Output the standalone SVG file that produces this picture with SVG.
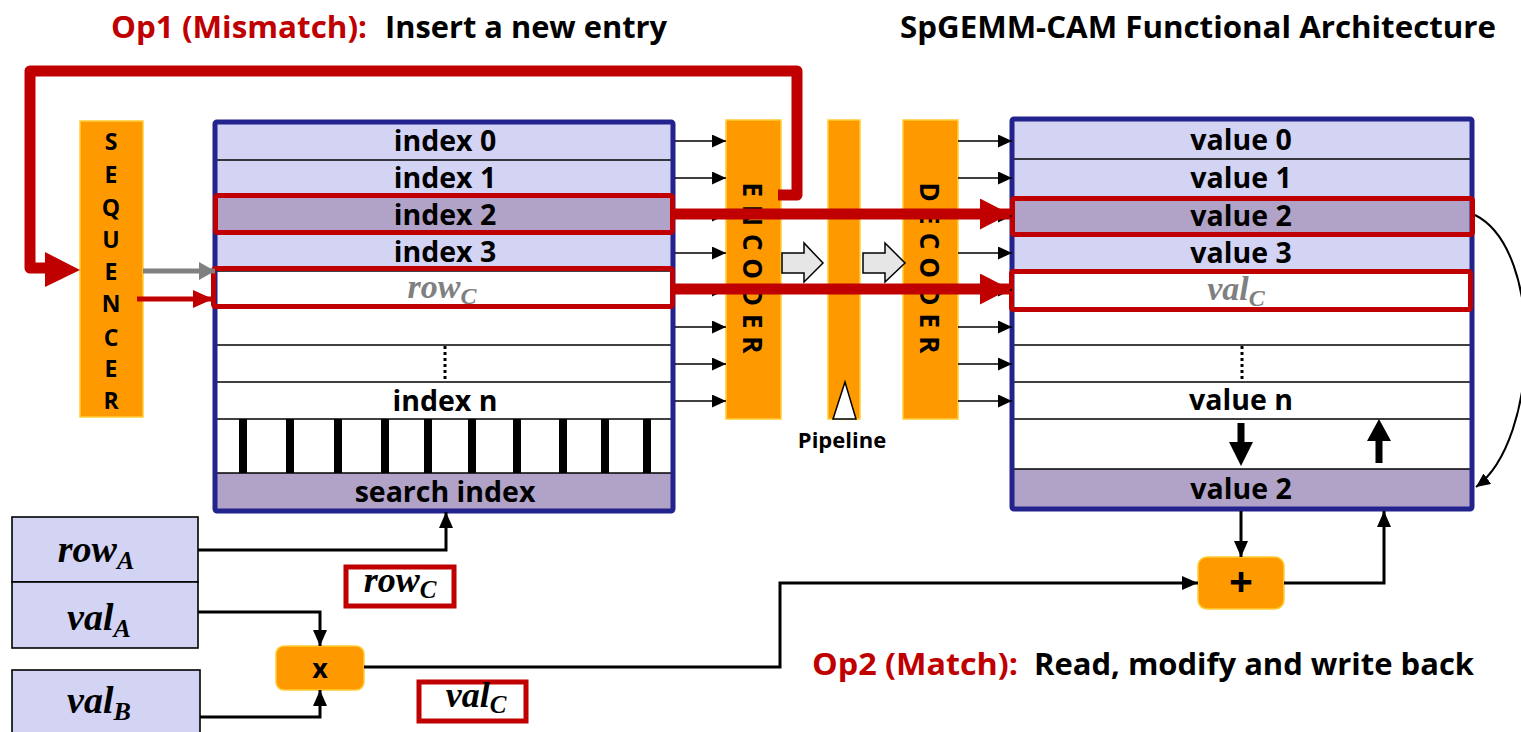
<svg xmlns="http://www.w3.org/2000/svg" width="1521" height="732" viewBox="0 0 1521 732">
<style>
.t{font-family:"Open Sans","Liberation Sans",sans-serif;font-weight:700;text-anchor:middle;fill:#000}
.cell{font-size:28.5px}
.lav{fill:#d3d3f3}
.dk{fill:#b1a3c8}
.wh{fill:#fff}
.ln{stroke:#000;stroke-width:1.6}
.nav{fill:none;stroke:#23238e;stroke-width:5}
.thin{stroke:#000;stroke-width:1.6;fill:none}
.con{stroke:#000;stroke-width:3;fill:none}
.org{fill:#ff9900;stroke:#ffcc33;stroke-width:1.5}
.rbox{fill:none;stroke:#c00000;stroke-width:5}
.math{font-family:"Liberation Serif","DejaVu Serif",serif;font-style:italic;font-weight:700;text-anchor:middle}
.tick{fill:#000}
.dots{stroke:#000;stroke-width:3;stroke-dasharray:3 3}
</style>
<defs>
<marker id="ah" markerUnits="userSpaceOnUse" markerWidth="14" markerHeight="13" refX="14" refY="6.5" orient="auto"><path d="M0,0 L14,6.5 L0,13 z" fill="#000"/></marker>
<marker id="ah2" markerUnits="userSpaceOnUse" markerWidth="16" markerHeight="14" refX="16" refY="7" orient="auto"><path d="M0,0 L16,7 L0,14 z" fill="#000"/></marker>
<marker id="rh" markerUnits="userSpaceOnUse" markerWidth="30" markerHeight="31" refX="30" refY="15.5" orient="auto"><path d="M0,0 L30,15.5 L0,31 z" fill="#c00000"/></marker>
<marker id="rs" markerUnits="userSpaceOnUse" markerWidth="20" markerHeight="18" refX="20" refY="9" orient="auto"><path d="M0,0 L20,9 L0,18 z" fill="#c00000"/></marker>
<marker id="gs" markerUnits="userSpaceOnUse" markerWidth="16" markerHeight="18" refX="16" refY="9" orient="auto"><path d="M0,0 L16,9 L0,18 z" fill="#808080"/></marker>
</defs>

<!-- Titles -->
<text x="111" y="38" font-family="Open Sans, Liberation Sans, sans-serif" font-weight="700" font-size="30" fill="#c00000" textLength="256" lengthAdjust="spacingAndGlyphs">Op1 (Mismatch):</text>
<text x="385" y="38" font-family="Open Sans, Liberation Sans, sans-serif" font-weight="700" font-size="30" fill="#000" textLength="282" lengthAdjust="spacingAndGlyphs">Insert a new entry</text>
<text x="900" y="38" font-family="Open Sans, Liberation Sans, sans-serif" font-weight="700" font-size="30" fill="#000" textLength="596" lengthAdjust="spacingAndGlyphs">SpGEMM-CAM Functional Architecture</text>
<text x="812" y="675" font-family="Open Sans, Liberation Sans, sans-serif" font-weight="700" font-size="30" fill="#c00000" textLength="206" lengthAdjust="spacingAndGlyphs">Op2 (Match):</text>
<text x="1034" y="675" font-family="Open Sans, Liberation Sans, sans-serif" font-weight="700" font-size="30" fill="#000" textLength="440" lengthAdjust="spacingAndGlyphs">Read, modify and write back</text>

<!-- Sequencer -->
<g id="sequencer">
<rect x="80" y="121" width="63" height="296" class="org"/>
<g class="t" font-size="23">
<text x="111" y="150">S</text>
<text x="111" y="183">E</text>
<text x="111" y="216">Q</text>
<text x="111" y="248">U</text>
<text x="111" y="280">E</text>
<text x="111" y="312">N</text>
<text x="111" y="346">C</text>
<text x="111" y="377">E</text>
<text x="111" y="409">R</text>
</g>
</g>

<!-- Index CAM table -->
<g id="index-table">
<rect x="215" y="123" width="458" height="37" class="lav"/>
<rect x="215" y="160" width="458" height="37" class="lav"/>
<rect x="215" y="197" width="458" height="37" class="dk"/>
<rect x="215" y="234" width="458" height="37" class="lav"/>
<rect x="215" y="271" width="458" height="202" class="wh"/>
<rect x="215" y="473" width="458" height="37" class="dk"/>
<g class="ln">
<line x1="215" y1="160" x2="673" y2="160"/>
<line x1="215" y1="197" x2="673" y2="197"/>
<line x1="215" y1="234" x2="673" y2="234"/>
<line x1="215" y1="271" x2="673" y2="271"/>
<line x1="215" y1="308" x2="673" y2="308"/>
<line x1="215" y1="345" x2="673" y2="345"/>
<line x1="215" y1="382" x2="673" y2="382"/>
<line x1="215" y1="419" x2="673" y2="419"/>
<line x1="215" y1="473" x2="673" y2="473"/>
</g>
<line x1="445" y1="346" x2="445" y2="382" class="dots"/>
<g class="tick">
<rect x="239" y="419" width="8" height="54"/>
<rect x="286" y="419" width="8" height="54"/>
<rect x="334" y="419" width="8" height="54"/>
<rect x="381" y="419" width="8" height="54"/>
<rect x="424" y="419" width="8" height="54"/>
<rect x="468" y="419" width="8" height="54"/>
<rect x="513" y="419" width="8" height="54"/>
<rect x="559" y="419" width="8" height="54"/>
<rect x="601" y="419" width="8" height="54"/>
<rect x="643" y="419" width="8" height="54"/>
</g>
<rect x="215" y="122" width="458" height="389" rx="2" class="nav"/>
<g class="t cell">
<text x="445" y="151">index 0</text>
<text x="445" y="188">index 1</text>
<text x="445" y="225">index 2</text>
<text x="445" y="262">index 3</text>
<text x="445" y="411">index n</text>
<text x="445" y="502">search index</text>
</g>
<text x="442" y="298" class="math" font-size="34" fill="#808080">row<tspan font-size="24" dy="6">C</tspan></text>
<rect x="215.5" y="195.5" width="457" height="37" rx="2" class="rbox"/>
<rect x="213.5" y="268.5" width="459" height="38" rx="2" class="rbox"/>
</g>

<!-- Encoder -->
<g id="encoder">
<rect x="726" y="120" width="55" height="299" class="org"/>
<text x="0" y="0" class="t" font-size="26" dominant-baseline="central" textLength="171" lengthAdjust="spacing" transform="translate(753,268) rotate(90)">ENCODER</text>
</g>

<!-- Pipeline -->
<g id="pipeline">
<rect x="828" y="120" width="32" height="299" class="org"/>
<path d="M833,419 L845,382 L856,419 z" fill="#fff" stroke="#000" stroke-width="1.5"/>
<text x="842" y="448" class="t" font-size="22">Pipeline</text>
</g>

<!-- Decoder -->
<g id="decoder">
<rect x="903" y="120" width="55" height="299" class="org"/>
<text x="0" y="0" class="t" font-size="26" dominant-baseline="central" textLength="171" lengthAdjust="spacing" transform="translate(930,268) rotate(90)">DECODER</text>
</g>

<!-- Value table -->
<g id="value-table">
<rect x="1012" y="120" width="460" height="39" class="lav"/>
<rect x="1012" y="159" width="460" height="38" class="lav"/>
<rect x="1012" y="197" width="460" height="38" class="dk"/>
<rect x="1012" y="235" width="460" height="36" class="lav"/>
<rect x="1012" y="271" width="460" height="198" class="wh"/>
<rect x="1012" y="469" width="460" height="39" class="dk"/>
<g class="ln">
<line x1="1012" y1="159" x2="1472" y2="159"/>
<line x1="1012" y1="197" x2="1472" y2="197"/>
<line x1="1012" y1="235" x2="1472" y2="235"/>
<line x1="1012" y1="271" x2="1472" y2="271"/>
<line x1="1012" y1="310" x2="1472" y2="310"/>
<line x1="1012" y1="345" x2="1472" y2="345"/>
<line x1="1012" y1="382" x2="1472" y2="382"/>
<line x1="1012" y1="419" x2="1472" y2="419"/>
<line x1="1012" y1="469" x2="1472" y2="469"/>
</g>
<line x1="1242" y1="346" x2="1242" y2="382" class="dots"/>
<path d="M1237.5,423 L1244.5,423 L1244.5,442 L1253,442 L1241,466 L1229,442 L1237.5,442 z" fill="#000"/>
<path d="M1375.5,463 L1382.5,463 L1382.5,441 L1391,441 L1379,419 L1367,441 L1375.5,441 z" fill="#000"/>
<rect x="1012" y="119" width="460" height="390" rx="2" class="nav"/>
<g class="t cell">
<text x="1241" y="150">value 0</text>
<text x="1241" y="188">value 1</text>
<text x="1241" y="226">value 2</text>
<text x="1241" y="263">value 3</text>
<text x="1241" y="410">value n</text>
<text x="1241" y="499">value 2</text>
</g>
<text x="1236" y="300" class="math" font-size="34" fill="#808080">val<tspan font-size="24" dy="6">C</tspan></text>
<rect x="1012.5" y="198.5" width="460" height="36" rx="2" class="rbox"/>
<rect x="1011.5" y="271.5" width="459" height="38" rx="2" class="rbox"/>
</g>

<!-- Input boxes -->
<g id="rowA">
<rect x="12" y="517" width="186" height="65" class="lav" stroke="#000" stroke-width="1.6"/>
<text x="96" y="562" class="math" font-size="38">row<tspan font-size="26" dy="7">A</tspan></text>
</g>
<g id="valA">
<rect x="12" y="582" width="186" height="66" class="lav" stroke="#000" stroke-width="1.6"/>
<text x="99" y="630" class="math" font-size="38">val<tspan font-size="26" dy="7">A</tspan></text>
</g>
<g id="valB">
<rect x="12" y="670" width="188" height="70" class="lav" stroke="#000" stroke-width="1.6"/>
<text x="99" y="713" class="math" font-size="38">val<tspan font-size="26" dy="7">B</tspan></text>
</g>
<g id="rowC-label">
<rect x="346" y="567" width="108" height="39" class="rbox" stroke-width="4.5"/>
<text x="400" y="592" class="math" font-size="36">row<tspan font-size="25" dy="6">C</tspan></text>
</g>
<g id="valC-label">
<rect x="419" y="682" width="107" height="39" class="rbox" stroke-width="4.5"/>
<text x="476" y="707" class="math" font-size="36">val<tspan font-size="25" dy="6">C</tspan></text>
</g>
<g id="mul">
<rect x="276" y="646" width="88" height="44" rx="8" class="org"/>
<text x="320" y="678" class="t" font-size="27">x</text>
</g>
<g id="add">
<rect x="1198" y="557" width="86" height="52" rx="9" class="org"/>
<text x="1241" y="597" class="t" font-size="42">+</text>
</g>

<!-- Connectors -->
<g id="connectors">
<path d="M778,195 L797,195 L797,71 L30,71 L30,268 L46,268" fill="none" stroke="#c00000" stroke-width="11" stroke-linejoin="round"/>
<path d="M45,252 L80,270 L45,287 z" fill="#c00000"/>
<line x1="143" y1="271" x2="215" y2="271" stroke="#808080" stroke-width="5" marker-end="url(#gs)"/>
<line x1="137" y1="299" x2="213" y2="299" stroke="#c00000" stroke-width="5" marker-end="url(#rs)"/>
<g class="thin">
<line x1="675" y1="141" x2="726" y2="141" marker-end="url(#ah)"/>
<line x1="675" y1="178" x2="726" y2="178" marker-end="url(#ah)"/>
<line x1="675" y1="215" x2="726" y2="215" marker-end="url(#ah)"/>
<line x1="675" y1="253" x2="726" y2="253" marker-end="url(#ah)"/>
<line x1="675" y1="290" x2="726" y2="290" marker-end="url(#ah)"/>
<line x1="675" y1="327" x2="726" y2="327" marker-end="url(#ah)"/>
<line x1="675" y1="364" x2="726" y2="364" marker-end="url(#ah)"/>
<line x1="675" y1="401" x2="726" y2="401" marker-end="url(#ah)"/>
<line x1="958" y1="141" x2="1012" y2="141" marker-end="url(#ah)"/>
<line x1="958" y1="178" x2="1012" y2="178" marker-end="url(#ah)"/>
<line x1="958" y1="216" x2="1012" y2="216" marker-end="url(#ah)"/>
<line x1="958" y1="253" x2="1012" y2="253" marker-end="url(#ah)"/>
<line x1="958" y1="290" x2="1012" y2="290" marker-end="url(#ah)"/>
<line x1="958" y1="327" x2="1012" y2="327" marker-end="url(#ah)"/>
<line x1="958" y1="364" x2="1012" y2="364" marker-end="url(#ah)"/>
<line x1="958" y1="401" x2="1012" y2="401" marker-end="url(#ah)"/>
</g>
<path d="M782,253 L804,253 L804,243 L823,263 L804,282 L804,273 L782,273 z" fill="#e6e6e6" stroke="#000" stroke-width="1.5"/>
<path d="M863,253 L885,253 L885,243 L905,263 L885,282 L885,273 L863,273 z" fill="#e6e6e6" stroke="#000" stroke-width="1.5"/>
<line x1="675" y1="214" x2="1010" y2="214" stroke="#c00000" stroke-width="11" marker-end="url(#rh)"/>
<line x1="673" y1="289" x2="1010" y2="289" stroke="#c00000" stroke-width="11" marker-end="url(#rh)"/>
<path d="M1475,215 C1545,250 1540,440 1476,487" fill="none" stroke="#000" stroke-width="2" marker-end="url(#ah)"/>
<path d="M198,550 L446,550 L446,512" class="con" marker-end="url(#ah2)"/>
<path d="M198,612 L320,612 L320,646" class="con" marker-end="url(#ah2)"/>
<path d="M200,717 L320,717 L320,690" class="con" marker-end="url(#ah2)"/>
<path d="M364,667 L780,667 L780,583 L1198,583" class="con" marker-end="url(#ah2)"/>
<path d="M1241,511 L1241,557" class="con" marker-end="url(#ah2)"/>
<path d="M1284,583 L1384,583 L1384,511" class="con" marker-end="url(#ah2)"/>
</g>
</svg>
